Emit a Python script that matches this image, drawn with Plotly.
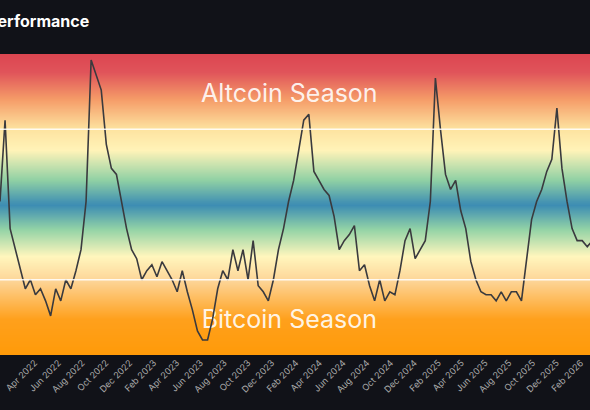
import numpy as np
import pandas as pd
import plotly.graph_objects as go

# Altcoin season index (roughly every 13 days)
start_date = "2022-01-02"
index_values = [51, 78, 42, 35, 28, 22, 25, 20, 22, 18, 13, 22, 18, 25, 22, 28, 35, 51, 98, 93,
                88, 70, 62, 60, 51, 42, 35, 32, 25, 28, 30, 26, 31, 28, 25, 21, 28, 21, 15, 8,
                5, 5, 12, 22, 28, 25, 35, 28, 35, 25, 38, 23, 21, 18, 25, 35, 42, 51, 58, 68,
                78, 80, 61, 58, 55, 53, 46, 35, 38, 40, 43, 28, 30, 23, 18, 25, 18, 21, 20, 28,
                38, 42, 32, 35, 38, 51, 92, 75, 60, 55, 58, 48, 42, 31, 25, 21, 20, 20, 18, 21,
                18, 21, 21, 18, 31, 45, 51, 55, 61, 65, 82, 62, 51, 42, 38, 38, 36, 38, 40]
dates = pd.date_range(start_date, periods=len(index_values), freq="13D")

band_levels = np.linspace(0, 100, 101)
band_scale = [
    [0.00, "#ff9a08"], [0.12, "#ffa01c"], [0.25, "#fdd598"], [0.33, "#fff6bd"],
    [0.42, "#93d3a6"], [0.50, "#3d8db3"], [0.58, "#8fd0a4"], [0.68, "#fff3b8"],
    [0.75, "#fde3a0"], [0.85, "#f59c68"], [0.94, "#e0545a"], [1.00, "#dc4651"],
]

fig = go.Figure()
fig.add_trace(go.Heatmap(
    x=[pd.Timestamp("2021-12-01"), pd.Timestamp("2026-04-01")],
    y=band_levels,
    z=[[v, v] for v in band_levels],
    colorscale=band_scale, zmin=0, zmax=100, zsmooth="best",
    showscale=False, hoverinfo="skip"))

# season labels sit under the line
fig.add_trace(go.Scatter(
    x=[pd.Timestamp("2024-01-15"), pd.Timestamp("2024-01-15")], y=[86, 11],
    mode="text", text=["Altcoin Season", "Bitcoin Season"],
    textfont=dict(family="Inter, sans-serif", size=25, color="rgba(255,255,255,0.9)"),
    hoverinfo="skip", showlegend=False))

fig.add_trace(go.Scatter(
    x=dates, y=index_values, mode="lines",
    line=dict(color="#3a3a3e", width=1.6), showlegend=False))

for lvl in [75, 25]:
    fig.add_hline(y=lvl, line=dict(color="rgba(255,255,255,0.85)", width=1.5))

fig.add_annotation(
    text="<b>Altcoin Season Index Performance</b>", xref="paper", yref="paper",
    x=0.155, y=1.11, xanchor="right", yanchor="middle", showarrow=False,
    font=dict(family="Inter, sans-serif", size=16, color="white"))

fig.update_layout(
    width=590, height=410,
    margin=dict(l=0, r=0, t=54, b=55, autoexpand=False),
    paper_bgcolor="#111218", plot_bgcolor="#111218",
    showlegend=False,
    xaxis=dict(range=["2022-01-02", "2026-02-25"], tick0="2022-02-01", dtick="M2",
               tickformat="%b %Y", tickangle=-45, automargin=False,
               tickfont=dict(family="Inter, sans-serif", size=9, color="#aaaaaa"),
               showgrid=True, gridcolor="rgba(255,255,255,0.12)", zeroline=False),
    yaxis=dict(range=[0, 100], visible=False, showgrid=False, automargin=False),
)

fig.write_html("out.html", config={"displayModeBar": False},
               post_script="document.body.style.margin='0';document.body.style.background='#111218';")
